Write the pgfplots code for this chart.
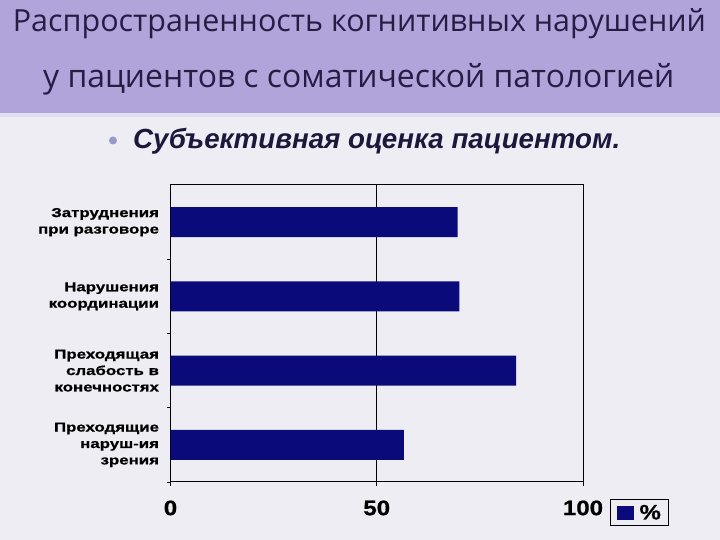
\documentclass[border=0pt]{standalone}
\usepackage{pgfplots}
\pgfplotsset{compat=1.18}
\usepackage{graphicx}
\usepackage{fontspec}
\setmainfont{Liberation Sans}
\newfontfamily\titlefont{Open Sans}
\newfontfamily\labelfont{Liberation Sans}[FakeStretch=1.3, FakeBold=0.8]
\newfontfamily\tickfont{Liberation Sans}[FakeStretch=1.15, FakeBold=0.8]

\definecolor{slidebg}{RGB}{237,237,243}
\definecolor{header}{RGB}{176,164,218}
\definecolor{titletext}{RGB}{38,28,68}
\definecolor{subtext}{RGB}{28,24,60}
\definecolor{bulletc}{RGB}{150,154,200}
\definecolor{barblue}{RGB}{10,10,122}

\begin{document}
\begin{tikzpicture}[x=1bp,y=1bp]
% slide background
\fill[slidebg] (0,0) rectangle (720,540);
\fill[header] (0,427) rectangle (720,540);
\fill[header!35!white] (0,423) rectangle (720,427);

% title
\node[anchor=base west, inner sep=0, text=titletext] at (12.7,508.5)
  {\resizebox{693bp}{!}{\titlefont Распространенность когнитивных нарушений}};
\node[anchor=base west, inner sep=0, text=titletext] at (43,452)
  {\resizebox{631bp}{!}{\titlefont у пациентов с соматической патологией}};

% bullet line
\fill[bulletc] (113,399.5) circle (4);
\node[anchor=base west, inner sep=0, text=subtext] at (133,391)
  {\resizebox{487bp}{!}{\bfseries\itshape Субъективная оценка пациентом.}};

\begin{axis}[
    at={(170.5bp,58bp)}, anchor=south west,
    scale only axis,
    width=412.5bp, height=297bp,
    xbar,
    bar width=30bp,
    xmin=0, xmax=100,
    ymin=0.5, ymax=4.5,
    axis line style={black, line width=1bp},
    tick pos=left,
    tick align=outside,
    major tick length=4bp,
    tick style={black, line width=0.8bp},
    xtick={0,50,100},
    xmajorgrids=true,
    major grid style={black, line width=0.8bp},
    /pgf/number format/assume math mode=true,
    xticklabel style={font=\tickfont\bfseries\fontsize{21}{24}\selectfont, yshift=-11bp},
    ytick={0.5,1.5,2.5,3.5},
    yticklabels={},
    extra y ticks={1,2,3,4},
    extra y tick labels={
        {Преходящие\\наруш-ия\\зрения},
        {Преходящая\\слабость в\\конечностях},
        {Нарушения\\координации},
        {Затруднения\\при разговоре}},
    extra y tick style={major tick length=0pt,
        yticklabel style={align=right, font=\labelfont\bfseries\fontsize{13}{16.5}\selectfont, xshift=-8bp}},
    legend style={at={(axis description cs:1.0655,-0.104)}, anchor=west,
        draw=black, line width=1bp, fill=none,
        font=\tickfont\bfseries\fontsize{21}{24}\selectfont,
        inner xsep=6bp, inner ysep=3bp},
    legend image code/.code={\fill[barblue] (0bp,-7bp) rectangle (17bp,7bp);},
]
\addplot[fill=barblue, draw=none] coordinates {
    (56.6,1) (83.8,2) (70.0,3) (69.6,4)
};
\addlegendentry{\hspace{4bp}\%}
\end{axis}
\end{tikzpicture}
\end{document}
